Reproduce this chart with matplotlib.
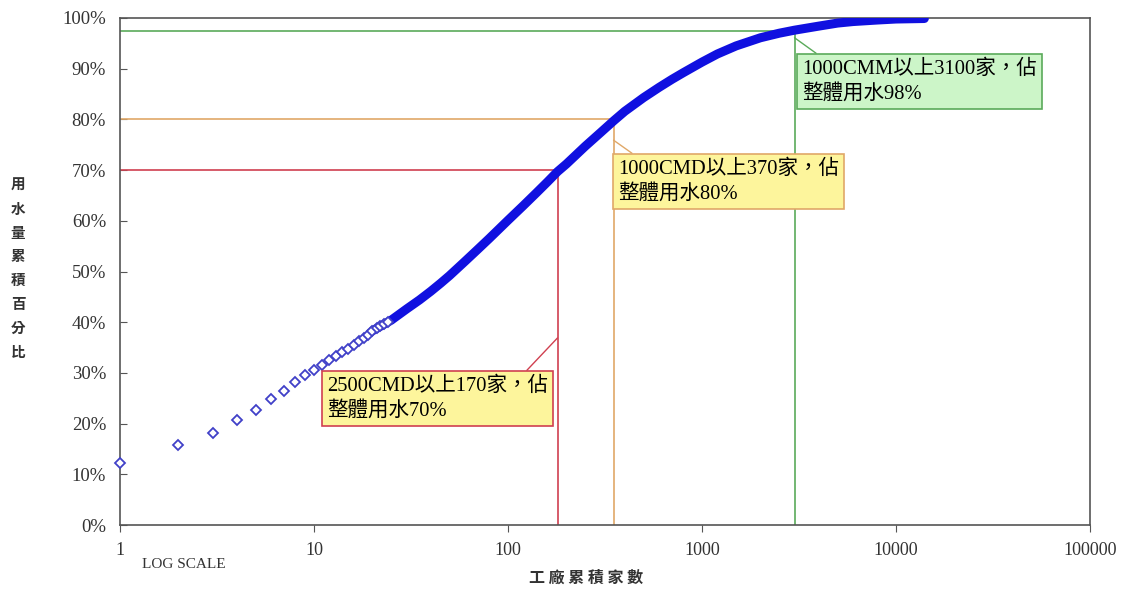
import matplotlib
matplotlib.use("Agg")
import matplotlib.pyplot as plt

# ---- data ----
sparse_n = [1, 2, 3, 4, 5, 6, 7, 8, 9, 10, 11, 12, 13, 14, 15, 16, 17, 18, 19, 20,
            21, 22, 23, 24]
sparse_pct = [12.3, 15.7, 18.2, 20.7, 22.7, 24.8, 26.5, 28.2, 29.5, 30.6,
              31.6, 32.5, 33.3, 34.1, 34.8, 35.5, 36.2, 36.8, 37.4, 38.3,
              38.8, 39.3, 39.7, 40.1]
dense_n = [20, 25, 30, 35, 40, 45, 50, 60, 70, 80, 90, 100, 120, 140, 160, 180, 200,
           250, 300, 350, 400, 500, 600, 700, 800, 1000, 1200, 1500, 2000, 2500,
           3000, 4000, 5000, 6000, 8000, 10000, 14000]
dense_pct = [38.3, 40.4, 42.6, 44.4, 46.1, 47.7, 49.2, 52.0, 54.4, 56.5, 58.4, 60.1,
             63.0, 65.5, 67.7, 69.7, 71.2, 74.7, 77.4, 79.7, 81.6, 84.3, 86.3, 87.9,
             89.2, 91.3, 92.9, 94.5, 96.1, 97.0, 97.6, 98.4, 99.0, 99.3, 99.6, 99.8, 99.9]

ref_x = [180, 350, 3000]
ref_y = [70, 80, 97.5]
ref_colors = ["#d04050", "#e0a868", "#5aaa5a"]
box_fill = ["#fdf59c", "#fdf59c", "#ccf5c8"]
box_texts = ["2500CMD以上170家，佔\n整體用水70%",
             "1000CMD以上370家，佔\n整體用水80%",
             "1000CMM以上3100家，佔\n整體用水98%"]
leader_y = [36.9, 75.9, 96.1]

y_ticks = list(range(0, 101, 10))
x_ticks = [1, 10, 100, 1000, 10000, 100000]
x_ticklabels = ["1", "10", "100", "1000", "10000", "100000"]
ylabel_chars = list("用水量累積百分比")
xlabel = "工廠累積家數"

W, H = 1121, 591
fig = plt.figure(figsize=(W / 100, H / 100), dpi=100)
ax = fig.add_axes([120 / W, 1 - 525 / H, (1090 - 120) / W, (525 - 18) / H])
ax.set_xscale("log")
ax.set_xlim(1, 100000)
ax.set_ylim(0, 100)

serif = ["Liberation Serif", "Noto Sans CJK TC"]
cjk = ["Noto Sans CJK TC", "DejaVu Sans"]

# reference lines
for xv, yv, c in zip(ref_x, ref_y, ref_colors):
    ax.plot([1, xv], [yv, yv], color=c, lw=1.2, zorder=2)
    ax.plot([xv, xv], [0, yv], color=c, lw=1.2, zorder=2)

# data curve
ax.plot(dense_n, dense_pct, color="#1010e0", lw=6.5, solid_capstyle="round",
        solid_joinstyle="round", zorder=3)
ax.plot(sparse_n, sparse_pct, linestyle="none", marker="D", markersize=5.2,
        markerfacecolor="white", markeredgecolor="#4040c8", markeredgewidth=1.3,
        zorder=4, clip_on=False)

# annotation boxes
box_px = [(322, 372, 0.88), (613, 155, 0.10), (797, 55, 0.094)]
for i in range(3):
    bx, by, rp = box_px[i]
    ax.annotate(box_texts[i], xy=(ref_x[i], leader_y[i]), xycoords="data",
                xytext=(bx + 5, H - by - 4), textcoords="figure pixels",
                ha="left", va="top", fontsize=14.8, family=serif, linespacing=1.38,
                bbox=dict(boxstyle="square,pad=0.25", fc=box_fill[i], ec=ref_colors[i], lw=1.2),
                arrowprops=dict(arrowstyle="-", color=ref_colors[i], lw=1.0,
                                relpos=(rp, 1.0), shrinkA=0, shrinkB=0),
                zorder=5)

# axes styling
for s in ax.spines.values():
    s.set_color("#555555")
    s.set_linewidth(1.2)
ax.set_yticks(y_ticks)
ax.set_yticklabels([f"{v}%" for v in y_ticks], family=serif, fontsize=13.5, color="#333333")
ax.set_xticks(x_ticks)
ax.set_xticklabels(x_ticklabels, family=serif, fontsize=13, color="#333333")
ax.xaxis.set_minor_locator(matplotlib.ticker.NullLocator())
ax.tick_params(axis="y", direction="in", length=5, color="#555555", pad=10)
ax.tick_params(axis="x", direction="out", length=5, color="#555555", pad=7)

# y label (vertical stacked characters)
for k, ch in enumerate(ylabel_chars):
    fig.text(18 / W, 1 - (185 + k * 23.8) / H, ch, family=cjk, fontsize=10.5,
             ha="center", va="center", color="#333333", fontweight="bold")
fig.text(586 / W, 1 - 578 / H, " ".join(xlabel), family=cjk,
         fontsize=11.5, ha="center", va="center", color="#333333", fontweight="bold")
fig.text(142 / W, 1 - 565 / H, "LOG SCALE", family=serif, fontsize=11,
         ha="left", va="center", color="#333333")

fig.savefig("out.png", dpi=100)
